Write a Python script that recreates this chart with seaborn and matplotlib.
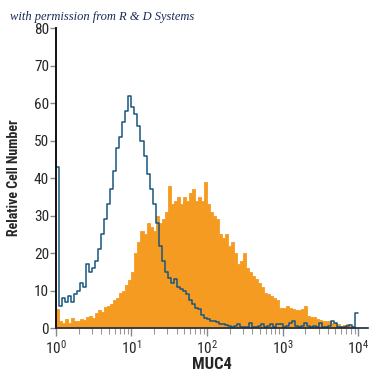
import numpy as np
import pandas as pd
import matplotlib
matplotlib.use("Agg")
import matplotlib.pyplot as plt
import seaborn as sns
from matplotlib.ticker import LogLocator, FixedLocator

# log10 bin centers (0.04 decade wide bins from 10^0 to 10^4)
log_centers = [round(0.02 + 0.04 * i, 2) for i in range(100)]

isotype = [43, 6, 8, 7, 8.5, 7, 9, 10, 12, 11,
           17, 15, 16, 18, 21, 25, 29, 33, 37, 42,
           48, 51, 55, 58, 62, 59, 57, 54, 50, 46,
           41, 37, 33, 28, 22, 18, 15, 13.5, 12, 13,
           11, 10.5, 10, 9, 7.5, 6.5, 5.5, 5, 3.5, 2.8,
           2.5, 2, 1.8, 1.6, 1.2, 1, 0.8, 0.5, 0.4, 0.6,
           1.2, 0.4, 0.3, 0.4, 1.3, 0.4, 0.3, 0.5, 1.2, 0.3,
           0.5, 1.2, 0.4, 1, 1, 0.4, 0.5, 1.4, 2, 0.6,
           0.4, 0.5, 1.5, 0.5, 0.3, 0.5, 0.4, 1.5, 0.4, 0.3,
           0.5, 2, 1.5, 0.4, 0.3, 0.3, 0.5, 0.8, 0.3, 4]

muc4 = [5, 2, 1.5, 2.5, 1.5, 2.8, 2, 1.8, 2.5, 2.2,
        3, 3.2, 2.8, 4, 4.8, 4.2, 5.7, 6, 6.5, 7.5,
        8, 9.5, 10, 11.5, 12.8, 15, 20, 23, 26, 25,
        28, 27, 26, 30, 28, 29, 31, 38, 33, 34,
        35, 33, 35, 34, 36, 37, 34, 35, 34, 39,
        33, 31, 30, 29, 25, 24, 25, 22, 23, 20,
        17, 18, 20, 16, 15, 14, 13, 12, 11, 9.5,
        9, 8.5, 8, 7.5, 5.5, 5.5, 6, 5.5, 5, 4.8,
        4.8, 5, 6, 3.2, 3, 3, 2.5, 2.2, 2, 1.8,
        1.8, 1.5, 1.5, 1.2, 0.5, 0.8, 1, 0.5, 0.3, 0]

y_ticks = [0, 10, 20, 30, 40, 50, 60, 70, 80]
x_tick_labels = [r"$10^{0}$", r"$10^{1}$", r"$10^{2}$", r"$10^{3}$", r"$10^{4}$"]

df = pd.DataFrame({"x": [10 ** c for c in log_centers],
                   "isotype": isotype, "muc4": muc4})

sns.set_style("white")
fam = ["Roboto Condensed", "Liberation Sans", "DejaVu Sans"]
plt.rcParams["font.family"] = fam
plt.rcParams["mathtext.fontset"] = "custom"
plt.rcParams["mathtext.rm"] = "Roboto Condensed"
plt.rcParams["mathtext.it"] = "Roboto Condensed"
plt.rcParams["mathtext.bf"] = "Roboto Condensed:bold"

fig = plt.figure(figsize=(3.75, 3.75), dpi=100)
ax = fig.add_axes([0.149, 0.125, 0.832, 0.8])

orange = "#F59B22"
blue = "#18557F"

sns.histplot(data=df, x="x", weights="muc4", bins=100, binrange=(0, 4),
             log_scale=True, element="step", fill=True, color=orange,
             alpha=1.0, linewidth=0.6, edgecolor=orange, ax=ax)
sns.histplot(data=df, x="x", weights="isotype", bins=100, binrange=(0, 4),
             log_scale=True, element="step", fill=False, color=blue,
             linewidth=1.1, alpha=1.0, ax=ax)

ax.set_xlim(1, 10 ** 4.13)
ax.set_ylim(0, 80)
ax.set_yticks(y_ticks)
ax.xaxis.set_major_locator(FixedLocator([1, 10, 100, 1000, 10000]))
ax.xaxis.set_minor_locator(LogLocator(base=10, subs=np.arange(2, 10), numticks=20))
ax.set_xticklabels(x_tick_labels)

for s in ["top", "right"]:
    ax.spines[s].set_visible(False)
ax.spines["left"].set_color("#111111")
ax.spines["left"].set_linewidth(1.4)
ax.spines["bottom"].set_color("#1a2a40")
ax.spines["bottom"].set_linewidth(1.2)

ax.tick_params(axis="y", which="major", direction="out", length=4, width=1,
               color="#888888", labelsize=11, pad=1, left=True)
ax.tick_params(axis="x", which="major", direction="out", length=6, width=1,
               color="#888888", labelsize=11, pad=2, bottom=True)
ax.tick_params(axis="x", which="minor", direction="out", length=4, width=0.8,
               color="#999999", bottom=True)

ax.set_xlabel("MUC4", fontsize=12, fontweight="bold", labelpad=0)
ax.set_ylabel("Relative Cell Number", fontsize=10, fontweight="bold", labelpad=9)

fig.text(0.027, 0.955, "with permission from R & D Systems",
         family=["Liberation Serif", "DejaVu Serif"], style="italic",
         fontsize=9, color="#1a2a5a", ha="left", va="center")

fig.savefig("out.png", dpi=100)
